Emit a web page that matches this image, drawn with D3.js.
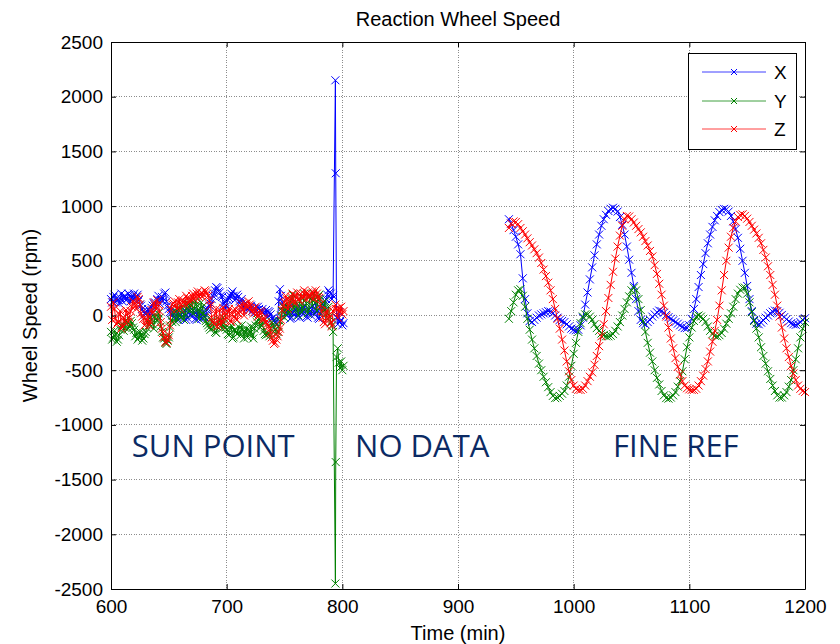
<!DOCTYPE html>
<html>
<head>
<meta charset="utf-8">
<script src="https://cdn.jsdelivr.net/npm/d3@7"></script>
<style>
  body { margin: 0; background: #fff; }
  text { font-family: Arial, "Liberation Sans", sans-serif; }
</style>
</head>
<body>
<svg id="chart" width="840" height="644"></svg>
<script>
// axis ticks
const xTicks = [600, 700, 800, 900, 1000, 1100, 1200];
const yTicks = [-2500, -2000, -1500, -1000, -500, 0, 500, 1000, 1500, 2000, 2500];

// sun point part, even minutes
const sunTime = [
  600, 602, 604, 606, 608, 610, 612, 614, 616, 618,
  620, 622, 624, 626, 628, 630, 632, 634, 636, 638,
  640, 642, 644, 646, 648, 650, 652, 654, 656, 658,
  660, 662, 664, 666, 668, 670, 672, 674, 676, 678,
  680, 682, 684, 686, 688, 690, 692, 694, 696, 698,
  700, 702, 704, 706, 708, 710, 712, 714, 716, 718,
  720, 722, 724, 726, 728, 730, 732, 734, 736, 738,
  740, 742, 744, 746, 748, 750, 752, 754, 756, 758,
  760, 762, 764, 766, 768, 770, 772, 774, 776, 778,
  780, 782, 784, 786, 788, 790, 792
];
const sunX = [
  150, 170, 120, 140, 160, 130, 180, 150, 190, 160,
  200, 170, 140, 90, 40, 10, 60, 30, 90, 120,
  150, 110, 170, 200, 130, 60, 20, -20, 30, -40,
  10, -30, 50, -20, 40, -10, 30, -40, 20, -30,
  40, 10, 60, 110, 180, 230, 250, 210, 170, 130,
  90, 160, 200, 180, 150, 170, 120, 90, 100, 60,
  80, 40, 70, 50, 60, 30, 10, 50, 40, 10,
  -20, -60, -40, 240, 120, 40, 0, 60, -20, 40,
  -10, 30, 70, 10, 50, -20, 30, 80, 10, 50,
  -30, 60, 100, 150, 230, 200, 180
];
const sunY = [
  -150, -200, -170, -220, -130, -80, -110, -60, -100, -70,
  -130, -160, -200, -180, -210, -150, -60, -20, -80, 10,
  -50, -20, -150, -210, -260, -200, -40, 30, -60, 60,
  -20, 90, 10, 110, 40, 130, 60, 100, -30, 120,
  20, -50, -90, -130, -60, -150, -100, -40, -120, -70,
  -130, -180, -90, -200, -150, -100, -180, -130, -160, -200,
  -140, -180, -120, -60, -30, -90, -140, -180, -170, -120,
  -80, -130, -150, -50, 40, -20, 100, 30, 150, 60,
  120, 0, 170, 80, 140, 20, 180, 90, 150, 40,
  190, 110, 60, -20, 80, -60, -150
];
const sunZ = [
  80, 120, -30, -60, 40, -100, -60, 20, -20, 80,
  120, 60, 150, 20, -30, -80, 10, -60, 20, 90,
  140, 40, -120, -200, -250, -180, 60, 110, 90, 120,
  60, 140, 100, 160, 130, 180, 150, 200, 170, 210,
  190, 220, 180, 90, -60, 20, -100, 50, -50, 30,
  -20, 60, -60, 40, -30, 20, 80, 50, 110, 70,
  100, 40, 60, 20, 0, 30, -20, -60, -100, -160,
  -230, -250, -190, -120, 50, 120, 150, 100, 170, 130,
  180, 150, 200, 160, 190, 210, 170, 220, 180, 200,
  160, 40, -60, 20, -30, -70, 40
];

// sun point part, odd minutes
const sunTimeOdd = [
  601, 603, 605, 607, 609, 611, 613, 615, 617, 619,
  621, 623, 625, 627, 629, 631, 633, 635, 637, 639,
  641, 643, 645, 647, 649, 651, 653, 655, 657, 659,
  661, 663, 665, 667, 669, 671, 673, 675, 677, 679,
  681, 683, 685, 687, 689, 691, 693, 695, 697, 699,
  701, 703, 705, 707, 709, 711, 713, 715, 717, 719,
  721, 723, 725, 727, 729, 731, 733, 735, 737, 739,
  741, 743, 745, 747, 749, 751, 753, 755, 757, 759,
  761, 763, 765, 767, 769, 771, 773, 775, 777, 779,
  781, 783, 785, 787, 789, 791
];
const sunXOdd = [
  120, 190, 160, 110, 200, 170, 140, 200, 130, 180,
  150, 190, 100, 60, 20, 40, 0, 70, 110, 80,
  180, 140, 130, 210, 90, 30, 0, 40, -10, 20,
  -20, 30, -40, 60, 0, 50, -30, 40, -10, 20,
  -20, 50, 90, 150, 200, 260, 220, 180, 100, 60,
  140, 180, 220, 140, 190, 130, 150, 70, 110, 50,
  90, 60, 30, 80, 40, 60, 20, -10, 30, -30,
  -50, -80, 130, 180, 80, 20, 70, -30, 20, 60,
  40, -20, 50, 90, -10, 60, 0, 40, 110, -20,
  20, 80, 130, 190, 210, 150
];
const sunYOdd = [
  -220, -140, -240, -180, -100, -140, -40, -120, -50, -110,
  -190, -220, -150, -230, -170, -110, -90, -40, -120, -30,
  20, -100, -200, -250, -230, -110, -60, 50, -30, 0,
  70, -40, 60, 80, 100, 20, 130, 50, 40, 80,
  -10, -70, -110, -40, -110, -160, -60, -90, -20, -110,
  -170, -120, -210, -130, -170, -150, -90, -210, -120, -170,
  -100, -210, -90, -40, -110, -60, -170, -150, -190, -60,
  -110, -170, -100, 0, 80, 60, 20, 120, 190, 90,
  60, 130, 30, 200, 110, 60, 150, 200, 120, 170,
  150, 30, 130, 20, -10, -90
];
const sunZOdd = [
  -40, 60, -80, 10, -120, -20, 50, -60, 40, 130,
  90, 170, 100, -10, -90, -40, -90, 50, 120, 60,
  100, -60, -160, -240, -220, -90, 100, 130, 60, 150,
  100, 120, 180, 110, 150, 200, 170, 220, 190, 170,
  230, 200, 140, -20, -80, 60, -40, -90, 70, -40,
  30, -50, 10, 60, -40, 40, 110, 0, 90, 130,
  70, 20, 80, -10, 40, -40, -30, -80, -130, -200,
  -260, -220, -150, -40, 90, 180, 60, 140, 200, 110,
  210, 130, 170, 230, 150, 180, 200, 150, 230, 170,
  100, -20, -80, 50, 10, -100
];

// spike at ~794 min and the last samples before the gap
const spikeTime = [794, 794.3];
const spikeX = [2150, 1300];
const spikeY = [-2450, -1340];
const spikeZ = [100, 60];
const tailTime = [795, 796, 797, 798, 799, 800, 801];
const tailX = [-20, -80, 30, -60, -40, -90, -70];
const tailY = [-380, -300, -430, -480, -420, -500, -460];
const tailZ = [60, -20, 70, 30, 80, 10, 40];

// fine ref part
const fineTime = [
  944, 946, 948, 950, 952, 954, 956, 958, 960, 962,
  964, 966, 968, 970, 972, 974, 976, 978, 980, 982,
  984, 986, 988, 990, 992, 994, 996, 998, 1000, 1002,
  1004, 1006, 1008, 1010, 1012, 1014, 1016, 1018, 1020, 1022,
  1024, 1026, 1028, 1030, 1032, 1034, 1036, 1038, 1040, 1042,
  1044, 1046, 1048, 1050, 1052, 1054, 1056, 1058, 1060, 1062,
  1064, 1066, 1068, 1070, 1072, 1074, 1076, 1078, 1080, 1082,
  1084, 1086, 1088, 1090, 1092, 1094, 1096, 1098, 1100, 1102,
  1104, 1106, 1108, 1110, 1112, 1114, 1116, 1118, 1120, 1122,
  1124, 1126, 1128, 1130, 1132, 1134, 1136, 1138, 1140, 1142,
  1144, 1146, 1148, 1150, 1152, 1154, 1156, 1158, 1160, 1162,
  1164, 1166, 1168, 1170, 1172, 1174, 1176, 1178, 1180, 1182,
  1184, 1186, 1188, 1190, 1192, 1194, 1196, 1198, 1200
];
const fineX = [
  880, 840, 780, 720, 650, 560, 340, 150, 20, -50,
  -60, -40, -20, 0, 10, 20, 30, 40, 35, 20,
  0, -20, -40, -50, -60, -80, -100, -120, -130, -135,
  -130, -90, -20, 100, 210, 330, 440, 550, 650, 740,
  820, 880, 920, 955, 975, 985, 975, 950, 900, 830,
  740, 630, 510, 390, 270, 150, 40, -40, -70, -80,
  -60, -40, -10, 10, 30, 45, 40, 25, 5, -15,
  -30, -45, -60, -75, -90, -105, -115, -115, -90, -30,
  60, 150, 260, 370, 470, 570, 660, 740, 810, 870,
  910, 945, 965, 975, 970, 950, 910, 860, 790, 710,
  610, 500, 390, 270, 150, 40, -40, -75, -80, -65,
  -45, -20, 0, 20, 35, 45, 40, 25, 5, -15,
  -35, -55, -70, -80, -85, -80, -60, -40, -25
];
const fineY = [
  -30, 40, 120, 190, 230, 240, 180, 80, -30, -130,
  -220, -300, -370, -440, -500, -560, -610, -655, -700, -735,
  -755, -750, -735, -715, -690, -640, -560, -460, -350, -250,
  -150, -70, -10, 10, 10, -10, -40, -80, -115, -140,
  -165, -180, -190, -190, -185, -170, -140, -100, -60, 0,
  60, 120, 175, 230, 255, 230, 150, 50, -50, -150,
  -250, -340, -420, -500, -570, -630, -690, -730, -755, -760,
  -750, -730, -700, -650, -600, -510, -400, -290, -200, -110,
  -50, -10, 0, -10, -30, -60, -100, -140, -170, -185,
  -190, -180, -160, -120, -75, -30, 20, 80, 150, 200,
  235, 255, 255, 200, 120, 30, -50, -120, -200, -290,
  -370, -440, -510, -580, -640, -690, -730, -750, -750, -730,
  -700, -650, -590, -500, -400, -300, -200, -120, -60
];
const fineZ = [
  800, 840, 860, 855, 835, 800, 770, 740, 705, 670,
  640, 605, 570, 530, 480, 420, 360, 300, 230, 150,
  60, -30, -120, -220, -320, -420, -510, -590, -640, -670,
  -680, -680, -670, -640, -600, -560, -520, -450, -370, -280,
  -190, -80, 40, 160, 280, 400, 520, 630, 730, 820,
  880, 910, 905, 880, 850, 820, 790, 760, 720, 680,
  640, 590, 540, 460, 380, 290, 190, 90, -10, -110,
  -210, -300, -390, -470, -540, -600, -640, -665, -675, -680,
  -680, -670, -640, -600, -550, -490, -420, -330, -240, -140,
  -40, 90, 230, 370, 500, 620, 720, 800, 860, 900,
  920, 925, 910, 885, 855, 820, 785, 750, 710, 660,
  600, 530, 450, 370, 280, 190, 90, -10, -110, -210,
  -300, -380, -460, -530, -590, -640, -670, -690, -700
];

const seriesNames = ["X", "Y", "Z"];
const seriesColors = ["#0000ff", "#008000", "#ff0000"];

const svg = d3.select("#chart");

const x = d3.scaleLinear().domain([600, 1200]).range([111, 805]);
const y = d3.scaleLinear().domain([-2500, 2500]).range([589, 42]);

svg.append("rect")
    .attr("width", 840)
    .attr("height", 644)
    .attr("fill", "#fff");

// grid (dotted)
const grid = svg.append("g");
grid.selectAll(".vgrid")
    .data(xTicks.slice(1, -1))
    .enter()
    .append("line")
    .attr("x1", d => x(d)).attr("x2", d => x(d))
    .attr("y1", y(2500)).attr("y2", y(-2500))
    .attr("stroke", "#8c8c8c")
    .attr("stroke-dasharray", "1,1.5")
    .attr("shape-rendering", "crispEdges");
grid.selectAll(".hgrid")
    .data(yTicks.slice(1, -1))
    .enter()
    .append("line")
    .attr("y1", d => y(d)).attr("y2", d => y(d))
    .attr("x1", x(600)).attr("x2", x(1200))
    .attr("stroke", "#8c8c8c")
    .attr("stroke-dasharray", "1,1.5")
    .attr("shape-rendering", "crispEdges");

// join even/odd sun samples, add spike and tail; fine part separate (gap = no data)
function sunPiece(even, odd, spike, tail) {
    const pts = sunTime.map((t, k) => [t, even[k]])
        .concat(sunTimeOdd.map((t, k) => [t, odd[k]]));
    pts.sort((a, b) => a[0] - b[0]);
    return pts
        .concat(spikeTime.map((t, k) => [t, spike[k]]))
        .concat(tailTime.map((t, k) => [t, tail[k]]));
}
const pieces = [
  [sunPiece(sunX, sunXOdd, spikeX, tailX), fineTime.map((t, k) => [t, fineX[k]])],
  [sunPiece(sunY, sunYOdd, spikeY, tailY), fineTime.map((t, k) => [t, fineY[k]])],
  [sunPiece(sunZ, sunZOdd, spikeZ, tailZ), fineTime.map((t, k) => [t, fineZ[k]])]
];

const line = d3.line()
    .x(d => x(d[0]))
    .y(d => y(d[1]));

const marker = "M-4,-4L4,4M-4,4L4,-4";

const plot = svg.append("g");
pieces.forEach((segs, i) => {
    const g = plot.append("g");
    segs.forEach(seg => {
        g.append("path")
            .datum(seg)
            .attr("fill", "none")
            .attr("stroke", seriesColors[i])
            .attr("stroke-width", 1)
            .attr("d", line);
        g.selectAll(null)
            .data(seg)
            .enter()
            .append("path")
            .attr("d", marker)
            .attr("transform", d => `translate(${x(d[0])},${y(d[1])})`)
            .attr("stroke", seriesColors[i])
            .attr("stroke-width", 1)
            .attr("fill", "none");
    });
});

// axes, ticks pointing inward, plain numbers
const tickFont = g => g.selectAll("text")
    .style("font-family", "Arial, 'Liberation Sans', sans-serif")
    .style("font-size", "19px")
    .attr("fill", "#000");
const plain = d => String(d);

svg.append("g")
    .attr("transform", `translate(0,${y(-2500)})`)
    .call(d3.axisBottom(x).tickValues(xTicks).tickFormat(plain).tickSize(-5).tickSizeOuter(0).tickPadding(11))
    .call(tickFont);
svg.append("g")
    .attr("transform", `translate(${x(600)},0)`)
    .call(d3.axisLeft(y).tickValues(yTicks).tickFormat(plain).tickSize(-5).tickSizeOuter(0).tickPadding(8))
    .call(tickFont);
svg.append("g")
    .attr("transform", `translate(0,${y(2500)})`)
    .call(d3.axisTop(x).tickValues(xTicks).tickSize(-5).tickSizeOuter(0).tickFormat(""));
svg.append("g")
    .attr("transform", `translate(${x(1200)},0)`)
    .call(d3.axisRight(y).tickValues(yTicks).tickSize(-5).tickSizeOuter(0).tickFormat(""));

// labels
svg.append("text")
    .attr("x", (x(600) + x(1200)) / 2)
    .attr("y", 26)
    .attr("text-anchor", "middle")
    .style("font-size", "20px")
    .text("Reaction Wheel Speed");

svg.append("text")
    .attr("x", (x(600) + x(1200)) / 2)
    .attr("y", 640)
    .attr("text-anchor", "middle")
    .style("font-size", "20px")
    .text("Time (min)");

svg.append("text")
    .attr("transform", `translate(37,${(y(2500) + y(-2500)) / 2}) rotate(-90)`)
    .attr("text-anchor", "middle")
    .style("font-size", "20px")
    .text("Wheel Speed (rpm)");

// region annotations
const notes = [
  { label: "SUN POINT", t: 618 },
  { label: "NO DATA", t: 811 },
  { label: "FINE REF", t: 1034 }
];
svg.selectAll(".note")
    .data(notes)
    .enter()
    .append("text")
    .attr("x", d => x(d.t))
    .attr("y", 457)
    .style("font-family", "'Open Sans', 'Noto Sans', sans-serif")
    .style("font-size", "31px")
    .attr("fill", "#0b2a64")
    .text(d => d.label);

// legend
const legend = svg.append("g");
legend.append("rect")
    .attr("x", 688.5).attr("y", 53.5)
    .attr("width", 108).attr("height", 96)
    .attr("fill", "#fff")
    .attr("stroke", "#000");
const legendY = [72, 101, 129];
seriesNames.forEach((name, i) => {
    legend.append("line")
        .attr("x1", 702).attr("x2", 766)
        .attr("y1", legendY[i]).attr("y2", legendY[i])
        .attr("stroke", seriesColors[i])
        .attr("stroke-opacity", 0.75);
    legend.append("path")
        .attr("d", "M-3,-3L3,3M-3,3L3,-3")
        .attr("transform", `translate(734,${legendY[i]})`)
        .attr("stroke", seriesColors[i])
        .attr("fill", "none");
    legend.append("text")
        .attr("x", 774)
        .attr("y", legendY[i] + 7)
        .style("font-size", "19px")
        .text(name);
});
</script>
</body>
</html>
